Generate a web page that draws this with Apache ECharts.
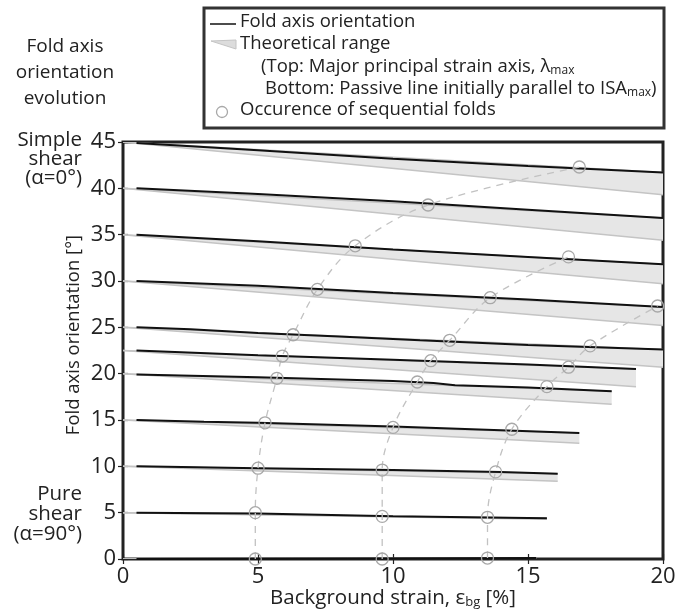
<!DOCTYPE html>
<html>
<head>
<meta charset="utf-8">
<title>Fold axis orientation evolution</title>
<script src="https://cdn.jsdelivr.net/npm/echarts@6/dist/echarts.min.js"></script>
<style>
    html, body {margin: 0; padding: 0; background: #fff;}
    #main_chart {width: 675px; height: 612px;}
</style>
</head>
<body>
<div id="main_chart"></div>
<script>
// 初始角度 (x=0 处)
var startAngle = [45, 40, 35, 30, 25, 22.5, 20, 15, 10, 5, 0];
// 理论范围结束位置
var bandEndX = [20, 20, 20, 20, 20, 19, 18.1, 16.9, 16.1, 15.7, 15.3];
var bandTopEnd = [41.7, 36.8, 31.8, 27.2, 22.6, 20.5, 18.1, 13.6, 9.2, 4.4, 0.1];
var bandBottomEnd = [39.3, 34.4, 29.7, 25.2, 20.7, 18.6, 16.7, 12.5, 8.4, 4.3, 0];

// 褶皱轴方向 (黑线)
var foldAxisLines = [
    [[0.5, 44.9], [5, 44.1], [10, 43.2], [15, 42.4], [20, 41.7]],
    [[0.5, 40.0], [5, 39.4], [10, 38.6], [15, 37.7], [20, 36.8]],
    [[0.5, 35.0], [5, 34.3], [10, 33.4], [15, 32.6], [20, 31.8]],
    [[0.5, 30.0], [5, 29.5], [10, 28.7], [15, 28.0], [20, 27.2]],
    [[0.5, 25.0], [2.5, 24.8], [5, 24.4], [8, 24.0], [11, 23.6], [15, 23.1], [20, 22.6]],
    [[0.5, 22.5], [5, 22.0], [10, 21.5], [15, 21.0], [19, 20.5]],
    [[0.5, 19.9], [5, 19.6], [10, 19.2], [11.5, 19.0], [12.3, 18.75], [15, 18.5], [18.1, 18.1]],
    [[0.5, 15.0], [3, 14.8], [5, 14.7], [10, 14.3], [14, 13.9], [16.9, 13.6]],
    [[0.5, 10.0], [5, 9.8], [10, 9.6], [14, 9.4], [16.1, 9.2]],
    [[0.5, 5.0], [5, 4.9], [10, 4.6], [15.7, 4.4]],
    [[0.5, 0], [15.3, 0.1]]
];

// 连续褶皱出现位置 (三条虚线)
var seqFoldsA = [[4.9, 0], [4.9, 5.0], [5.0, 9.8], [5.26, 14.7], [5.7, 19.5], [5.9, 21.9], [6.3, 24.2], [7.2, 29.1], [8.6, 33.8], [11.3, 38.2], [16.9, 42.3]];
var seqFoldsB = [[9.6, 0], [9.6, 4.6], [9.6, 9.6], [10.0, 14.2], [10.9, 19.1], [11.4, 21.4], [12.1, 23.6], [13.6, 28.2], [16.5, 32.6]];
var seqFoldsC = [[13.5, 0.1], [13.5, 4.5], [13.8, 9.4], [14.4, 14.0], [15.7, 18.6], [16.5, 20.7], [17.3, 23.0], [19.8, 27.3]];

var fontName = 'Open Sans';

function chartShow() {
    var myChart = echarts.init(document.getElementById('main_chart'));

    // 理论范围 灰色带
    var bandData = [];
    for (var i = 0; i < startAngle.length; i++) {
        bandData.push([0, startAngle[i], bandEndX[i], bandTopEnd[i], bandBottomEnd[i]]);
    }

    var series = [];
    series.push({
        type: 'custom',
        name: 'band',
        z: 1,
        clip: true,
        encode: {x: [0, 2], y: [1, 3, 4]},
        data: bandData,
        renderItem: function (params, api) {
            var p0 = api.coord([api.value(0), api.value(1)]);
            var pt = api.coord([api.value(2), api.value(3)]);
            var pb = api.coord([api.value(2), api.value(4)]);
            return {
                type: 'group',
                children: [
                    {type: 'polygon', shape: {points: [p0, pt, pb]}, style: {fill: '#e6e6e6'}},
                    {type: 'polyline', shape: {points: [p0, pb]}, style: {stroke: '#c4c4c4', lineWidth: 1.5, fill: null}},
                    {type: 'polyline', shape: {points: [p0, pt]}, style: {stroke: '#c4c4c4', lineWidth: 1.5, fill: null}}
                ]
            };
        }
    });

    for (var j = 0; j < foldAxisLines.length; j++) {
        series.push({
            type: 'line',
            z: 3,
            data: foldAxisLines[j],
            showSymbol: false,
            symbol: 'none',
            lineStyle: {color: '#111', width: 2}
        });
    }

    var seqList = [seqFoldsA, seqFoldsB, seqFoldsC];
    for (var k = 0; k < seqList.length; k++) {
        series.push({
            type: 'line',
            z: 4,
            data: seqList[k],
            smooth: 0.35,
            clip: false,
            symbol: 'circle',
            symbolSize: 12,
            lineStyle: {color: '#c2c2c2', width: 1.3, type: [7, 6]},
            itemStyle: {color: 'rgba(0,0,0,0)', borderColor: '#a8a8a8', borderWidth: 1.3}
        });
    }

    var tickStyle = {show: true, inside: true, length: 5, lineStyle: {color: '#222', width: 1.2}};

    var option = {
        animation: false,
        grid: {
            left: 123,
            right: 12,
            top: 142,
            bottom: 53,
            show: true,
            borderColor: '#222',
            borderWidth: 3,
            containLabel: false,
            outerBoundsMode: 'none'
        },
        xAxis: [
            {
                type: 'value', min: 0, max: 20, interval: 5,
                axisLine: {show: false},
                axisTick: tickStyle,
                splitLine: {show: false},
                axisLabel: {color: '#222', fontSize: 22, fontFamily: fontName, margin: 7},
                name: 'Background strain, ε{s|bg} [%]',
                nameLocation: 'middle',
                nameGap: 28,
                nameMoveOverlap: false,
                nameTextStyle: {
                    color: '#222', fontSize: 20.5, fontFamily: fontName,
                    rich: {s: {fontSize: 13, fontFamily: fontName, color: '#222', padding: [9, 0, 0, 0]}}
                }
            },
            {
                type: 'value', min: 0, max: 20, interval: 5, position: 'top',
                axisLine: {show: false},
                axisTick: tickStyle,
                splitLine: {show: false},
                axisLabel: {show: false}
            }
        ],
        yAxis: [
            {
                type: 'value', min: 0, max: 45, interval: 5,
                axisLine: {show: false},
                axisTick: tickStyle,
                splitLine: {show: false},
                axisLabel: {color: '#222', fontSize: 22, fontFamily: fontName, margin: 7}
            },
            {
                type: 'value', min: 0, max: 45, interval: 5, position: 'right',
                axisLine: {show: false},
                axisTick: tickStyle,
                splitLine: {show: false},
                axisLabel: {show: false}
            }
        ],
        graphic: [
            // 纵轴标题
            {
                type: 'text', position: [74, 335], rotation: Math.PI / 2,
                style: {
                    text: 'Fold axis orientation [°]', textAlign: 'center', textVerticalAlign: 'middle',
                    fill: '#222', fontSize: 18.5, fontFamily: fontName
                }
            },
            // 左上角标题
            {
                type: 'text', position: [65, 34],
                style: {
                    text: 'Fold axis\norientation\nevolution',
                    textAlign: 'center', fill: '#222', fontSize: 19, lineHeight: 26, fontFamily: fontName
                }
            },
            {
                type: 'text', position: [82, 131],
                style: {
                    text: 'Simple\nshear\n(α=0°)', textAlign: 'right',
                    fill: '#222', fontSize: 20.5, lineHeight: 19, fontFamily: fontName
                }
            },
            {
                type: 'text', position: [82, 484],
                style: {
                    text: 'Pure\nshear\n(α=90°)', textAlign: 'right',
                    fill: '#222', fontSize: 20.5, lineHeight: 20, fontFamily: fontName
                }
            },
            // 图例
            {
                type: 'rect', shape: {x: 204, y: 8, width: 460, height: 120},
                style: {fill: '#fff', stroke: '#333', lineWidth: 3}
            },
            {
                type: 'line', shape: {x1: 210, y1: 24, x2: 236, y2: 24},
                style: {stroke: '#111', lineWidth: 1.5}
            },
            {
                type: 'polygon', shape: {points: [[211, 41], [236, 40], [236, 49]]},
                style: {fill: '#dcdcdc', stroke: '#c4c4c4', lineWidth: 1}
            },
            {
                type: 'circle', shape: {cx: 222, cy: 112, r: 5.5},
                style: {fill: 'none', stroke: '#a8a8a8', lineWidth: 1.3}
            },
            {
                type: 'text', position: [240, 12],
                style: {text: 'Fold axis orientation', fill: '#222', fontSize: 18.5, fontFamily: fontName}
            },
            {
                type: 'text', position: [240, 34],
                style: {text: 'Theoretical range', fill: '#222', fontSize: 18.5, fontFamily: fontName}
            },
            {
                type: 'text', position: [261, 56],
                style: {
                    text: '(Top: Major principal strain axis, λ{s|max}', fill: '#222', fontSize: 18.5, fontFamily: fontName,
                    rich: {s: {fontSize: 12, fontFamily: fontName, fill: '#222', padding: [9, 0, 0, 0]}}
                }
            },
            {
                type: 'text', position: [265, 78],
                style: {
                    text: 'Bottom: Passive line initially parallel to ISA{s|max})', fill: '#222', fontSize: 18.5, fontFamily: fontName,
                    rich: {s: {fontSize: 12, fontFamily: fontName, fill: '#222', padding: [9, 0, 0, 0]}}
                }
            },
            {
                type: 'text', position: [240, 100],
                style: {text: 'Occurence of sequential folds', fill: '#222', fontSize: 18.5, fontFamily: fontName}
            }
        ],
        series: series
    };
    // 使用刚指定的配置项和数据显示图表。
    myChart.setOption(option);
}

chartShow();
</script>
</body>
</html>
